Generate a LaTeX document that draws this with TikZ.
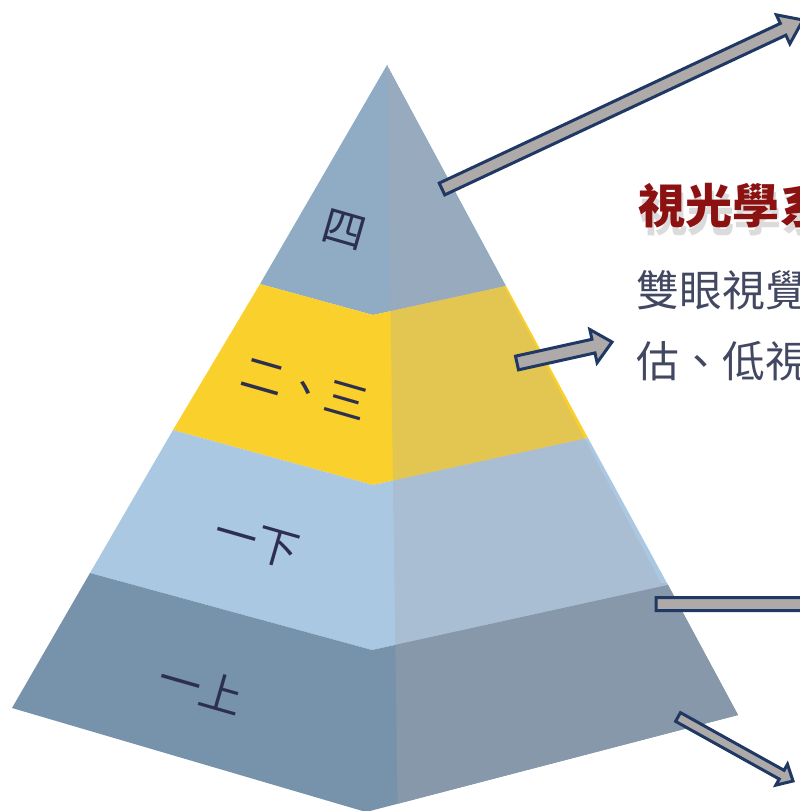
\documentclass[tikz,border=0pt]{standalone}
\usepackage{fontspec}
\newfontfamily\cjk{Noto Sans CJK TC}
\usetikzlibrary{calc}
\definecolor{band4L}{HTML}{8FACC4}
\definecolor{band4R}{HTML}{97AABE}
\definecolor{band3L}{HTML}{F9D02C}
\definecolor{band3R}{HTML}{E3C552}
\definecolor{band2L}{HTML}{ABC8E2}
\definecolor{band2R}{HTML}{A9BDD3}
\definecolor{band1L}{HTML}{7793AC}
\definecolor{band1R}{HTML}{8698AA}
\definecolor{arrline}{HTML}{1F3864}
\definecolor{arrfill}{HTML}{AEAAAA}
\definecolor{lblink}{HTML}{2D2F4F}
\definecolor{bodyink}{HTML}{434862}
\definecolor{ttlred}{HTML}{8C1212}
\tikzset{
	lbl/.style={inner sep=0pt, text=lblink, font=\cjk\fontsize{12.2}{13}\selectfont, rotate=-16},
	txt/.style={inner sep=0pt, anchor=west, text=bodyink, font=\cjk\fontsize{12.2}{13}\selectfont},
	ttl/.style={inner sep=0pt, anchor=west, font=\cjk\bfseries\fontsize{13.4}{14}\selectfont},
	blk/.style={draw=arrline, fill=arrfill, line width=0.3mm}
}
\def\blockarrow[#1](#2)(#3)(#4:#5:#6){%
	\coordinate (#2-h) at ($(#3)!#6!(#2)$);
	\draw[#1] ($(#2)!#4!90:(#3)$) -- ($(#2-h)!#4!90:(#3)$) -- ($(#2-h)!#5!90:(#3)$) -- (#3)
		-- ($(#2-h)!#5!-90:(#3)$) -- ($(#2-h)!#4!-90:(#3)$) -- ($(#2)!#4!-90:(#3)$) -- cycle;}

\begin{document}
\begin{tikzpicture}[x=0.1mm, y=-0.1mm]
		%%%%% START %%%%%
		\useasboundingbox (0,0) rectangle (800,811);
		\clip (0,0) rectangle (800,811);
		
		% pyramid, front face
		\fill[band4L] (387,65) -- (506,286) -- (373,315) -- (260,284) -- cycle;
		\fill[band3L] (260,284) -- (373,315) -- (506,286) -- (588,438) -- (373,485) -- (173,430) -- cycle;
		\fill[band2L] (173,430) -- (373,485) -- (588,438) -- (668,585) -- (372,650) -- (90,573) -- cycle;
		\fill[band1L] (90,573) -- (372,650) -- (668,585) -- (738,715) -- (366,812) -- (12,708) -- cycle;
		
		% pyramid, side face
		\begin{scope}
			\clip (387,65) -- (661,583) -- (800,583) -- (800,830) -- (398,830) -- cycle;
			\fill[band4R] (387,65) -- (506,286) -- (373,315) -- (260,284) -- cycle;
			\fill[band3R] (260,284) -- (373,315) -- (506,286) -- (588,438) -- (373,485) -- (173,430) -- cycle;
			\fill[band2R] (173,430) -- (373,485) -- (588,438) -- (668,585) -- (372,650) -- (90,573) -- cycle;
			\fill[band1R] (90,573) -- (372,650) -- (668,585) -- (738,715) -- (366,812) -- (12,708) -- cycle;
		\end{scope}
		
		\node[lbl] (g4) at (344,230) {四};
		\node[lbl] (g23) at (305,388) {二、三};
		\node[lbl] (g1b) at (257,542) {一下};
		\node[lbl] (g1a) at (201,687) {一上};
		
		% text on the right
		\node[ttl, text=black!35, opacity=.4] at (640,213) {視光學系};
		\node[ttl, text=ttlred] (title) at (638,205) {視光學系};
		\node[txt] (line1) at (636,290) {雙眼視覺};
		\node[txt] (line2) at (636,361) {估、低視};
		
		% arrows
		\coordinate (a1s) at (442,189);
		\coordinate (a1e) at (803,20);
		\coordinate (a2s) at (517,363);
		\coordinate (a2e) at (612,342);
		\coordinate (a3s) at (656,604);
		\coordinate (a3e) at (900,604);
		\coordinate (a4s) at (678,717);
		\coordinate (a4e) at (793,781);
		\blockarrow[blk](a1s)(a1e)(0.65mm:1.6mm:2.2mm);
		\blockarrow[blk](a2s)(a2e)(0.7mm:1.7mm:1.9mm);
		\blockarrow[blk](a3s)(a3e)(0.65mm:1.7mm:2mm);
		\blockarrow[blk](a4s)(a4e)(0.5mm:1.2mm:1.3mm);
		
		%%%%% END %%%%%
\end{tikzpicture}
\end{document}
